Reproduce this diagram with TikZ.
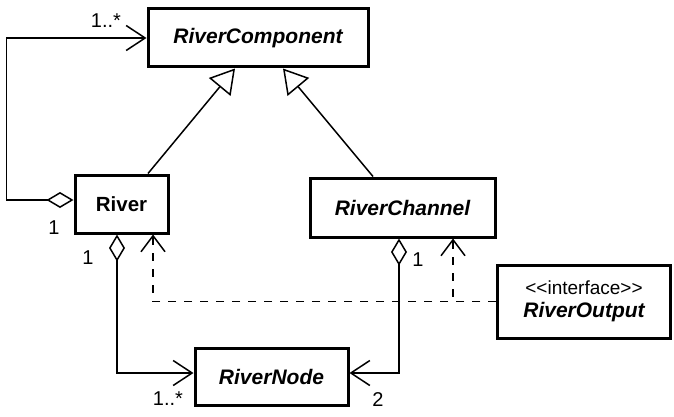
\documentclass[tikz,border=0pt]{standalone}
\usepackage{fontspec}
\setmainfont{Liberation Sans}
% a second copy of the face without TeX ligatures, so that << stays two characters
\newfontfamily\rawsans{Liberation Sans}
\usetikzlibrary{arrows.meta}

\begin{document}
\begin{tikzpicture}[x=1pt, y=-1pt,
  classbox/.style={draw, line width=3pt, fill=white, inner sep=0pt,
                   font=\fontsize{21}{24}\selectfont\bfseries\itshape},
  conn/.style={line width=1.5pt},
  gen/.style={conn, -{Triangle[open, length=24pt, width=28pt, line width=1.5pt]}},
  aggr/.style={conn, {Diamond[open, length=27pt, width=16pt, line width=1.5pt]}-{Straight Barb[length=19pt, width=25pt, line width=1.5pt]}},
  dep/.style={conn, dash pattern=on 8pt off 8pt, -{Straight Barb[length=16pt, width=24pt, line width=1.5pt]}},
  mult/.style={font=\fontsize{20}{22}\selectfont, inner sep=0pt}
]
\path[use as bounding box, fill=white] (0,0) rectangle (674,417);

% classes
\node[classbox, minimum width=220pt, minimum height=58pt] (RC) at (258,38) {RiverComponent};
\node[classbox, minimum width=93pt, minimum height=58pt, font=\fontsize{20.5}{24}\selectfont\bfseries] (River) at (121.5,204) {River};
\node[classbox, minimum width=185pt, minimum height=59pt] (RCh) at (402.5,207.5) {RiverChannel};
\node[classbox, minimum width=173pt, minimum height=73pt, align=center] (ROut) at (584,301.5)
  {{\rawsans\fontsize{19}{22}\selectfont\mdseries\upshape <<interface>>}\\[-1pt]RiverOutput};
\node[classbox, minimum width=153pt, minimum height=57pt] (RN) at (271.5,376.5) {RiverNode};

% generalisations
\draw[gen] ([xshift=26.5pt]River.north) -- ([xshift=-23pt]RC.south);
\draw[gen] ([xshift=-29.5pt]RCh.north) -- ([xshift=25pt]RC.south);

% aggregations
\draw[aggr] ([yshift=4pt]River.west) -- ++(-67,0) |- (RC.west);
\draw[aggr] ([xshift=-4.5pt]River.south) |- ([yshift=3.5pt]RN.west);
\draw[aggr] ([xshift=-3.5pt]RCh.south) |- ([yshift=3.5pt]RN.east);

% realisations of the interface
\draw[dep] (ROut.west) -| ([xshift=31.5pt]River.south);
\draw[dep] (ROut.west) -| ([xshift=50.5pt]RCh.south);

% multiplicities
\node[mult] (m1) at (106,21) {1..*};
\node[mult] (m2) at (54,228) {1};
\node[mult] (m3) at (88,258) {1};
\node[mult] (m4) at (418,260) {1};
\node[mult] (m5) at (168,399) {1..*};
\node[mult] (m6) at (378,400) {2};
\end{tikzpicture}
\end{document}
